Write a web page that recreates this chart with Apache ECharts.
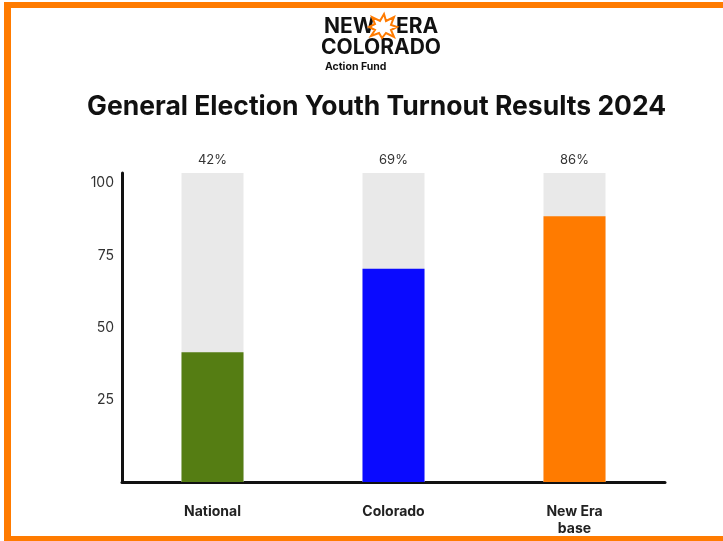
<!DOCTYPE html>
<html>
<head>
<meta charset="utf-8">
<script src="https://cdn.jsdelivr.net/npm/echarts@6/dist/echarts.min.js"></script>
<style>
html,body{margin:0;padding:0;background:#fff;}
#c{width:723px;height:541px;}
</style>
</head>
<body>
<div id="c"></div>
<script>
var categories = ['National', 'Colorado', 'New Era\nbase'];
var turnout = [42, 69, 86];
var fullScale = [100, 100, 100];
var barColors = ['#557d13', '#0a0aff', '#ff7b00'];
var tickLabels = [25, 50, 75, 100];

var chart = echarts.init(document.getElementById('c'));
var F = 'Inter, "DejaVu Sans", sans-serif';
chart.setOption({
  animation: false,
  backgroundColor: '#ffffff',
  grid: {left: 122, right: 58, top: 173, bottom: 59, containLabel: false},
  xAxis: {
    type: 'category',
    data: categories,
    axisLine: {show: true, lineStyle: {color: '#111', width: 3}},
    axisTick: {show: false},
    axisLabel: {color: '#222', fontSize: 14, fontWeight: 'bold', fontFamily: F, margin: 21, lineHeight: 17}
  },
  yAxis: [{
    type: 'value', min: 0, max: 100,
    axisLine: {show: true, lineStyle: {color: '#111', width: 3}},
    axisTick: {show: false},
    axisLabel: {show: false},
    splitLine: {show: false}
  }, {
    type: 'value', min: -3.34, max: 103.46, position: 'left',
    axisLine: {show: false},
    axisTick: {show: false},
    splitLine: {show: false},
    axisLabel: {show: true, customValues: tickLabels, color: '#333', fontSize: 14, fontFamily: F, margin: 8}
  }],
  series: [{
    type: 'bar',
    data: fullScale,
    barWidth: 62,
    barGap: '-100%',
    itemStyle: {color: '#e9e9e9'},
    label: {
      show: true, position: 'top', distance: 6, color: '#333', fontSize: 13, fontFamily: F,
      formatter: function (p) { return turnout[p.dataIndex] + '%'; }
    },
    z: 1
  }, {
    type: 'bar',
    data: turnout.map(function (v, i) { return {value: v, itemStyle: {color: barColors[i]}}; }),
    barWidth: 62,
    barGap: '-100%',
    z: 2
  }],
  graphic: [
    {type: 'rect', shape: {x: 4, y: 2, width: 719, height: 6}, style: {fill: '#ff7b00'}},
    {type: 'rect', shape: {x: 4, y: 2, width: 7, height: 539}, style: {fill: '#ff7b00'}},
    {type: 'rect', shape: {x: 4, y: 536, width: 719, height: 5}, style: {fill: '#ff7b00'}},
    {type: 'text', left: 87, top: 94, style: {text: 'General Election Youth Turnout Results 2024', fill: '#111', font: 'bold 26.5px ' + F}},
    {type: 'text', left: 324, top: 16, style: {text: 'NEW', fill: '#111', font: 'bold 21px ' + F}},
    {type: 'text', left: 396, top: 16, style: {text: 'ERA', fill: '#111', font: 'bold 21px ' + F}},
    {type: 'text', left: 321, top: 37, style: {text: 'COLORADO', fill: '#111', font: 'bold 21px ' + F}},
    {type: 'text', left: 325, top: 61, style: {text: 'Action Fund', fill: '#111', font: 'bold 10.5px ' + F}},
    {type: 'polygon', shape: {points: [[384,14],[386,21],[394,17],[391,25],[397,27],[391,30],[394,37],[386,33],[382,38],[379,33],[371,36],[375,30],[369,27],[375,24],[372,17],[380,21]]},
      style: {fill: 'none', stroke: '#ff7b00', lineWidth: 2}}
  ]
});
</script>
</body>
</html>
